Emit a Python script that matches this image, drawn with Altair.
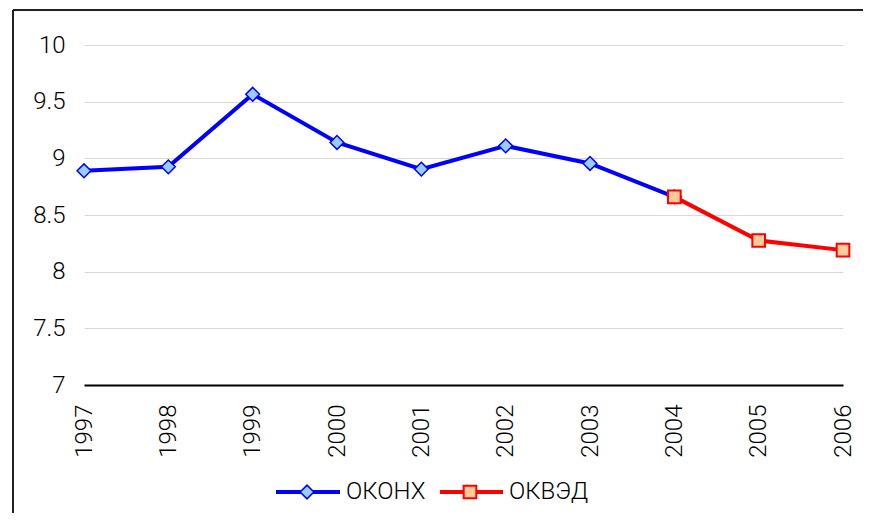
import altair as alt
import pandas as pd

years = ["1997", "1998", "1999", "2000", "2001", "2002", "2003", "2004", "2005", "2006"]
okonh_years = ["1997", "1998", "1999", "2000", "2001", "2002", "2003", "2004"]
okonh_values = [8.89, 8.925, 9.565, 9.14, 8.905, 9.11, 8.955, 8.66]
okved_years = ["2004", "2005", "2006"]
okved_values = [8.66, 8.275, 8.19]
series_names = ["ОКОНХ", "ОКВЭД"]
y_ticks = [7, 7.5, 8, 8.5, 9, 9.5, 10]

df1 = pd.DataFrame({"year": okonh_years, "value": okonh_values})
df2 = pd.DataFrame({"year": okved_years, "value": okved_values})
one = pd.DataFrame({"k": [0]})

FONT = "Roboto"
FS = 24
FW = 300
W, H = 759, 340
BLUE, LBLUE = "#0000ff", "#99ccff"
RED, LRED = "#ff0000", "#ffcc99"

x = alt.X(
    "year:O",
    scale=alt.Scale(type="point", domain=years, padding=0),
    axis=alt.Axis(
        title=None, labelAngle=-90, labelPadding=19, ticks=False, grid=False,
        domainColor="black", domainWidth=2, labelFont=FONT, labelFontSize=FS,
        labelFontWeight=FW, labelColor="black",
    ),
)
y = alt.Y(
    "value:Q",
    scale=alt.Scale(domain=[7, 10], nice=False, zero=False),
    axis=alt.Axis(
        title=None, values=y_ticks, format="~g", domain=False, ticks=False,
        gridColor="#d9d9d9", gridWidth=1, labelPadding=19, labelFont=FONT,
        labelFontSize=FS, labelFontWeight=FW, labelColor="black",
    ),
)

line1 = alt.Chart(df1).mark_line(color=BLUE, strokeWidth=4).encode(x=x, y=y)
pts1 = alt.Chart(df1).mark_point(
    shape="diamond", filled=True, fill=LBLUE, stroke=BLUE, strokeWidth=1.5,
    size=190, opacity=1,
).encode(x=x, y=y)
line2 = alt.Chart(df2).mark_line(color=RED, strokeWidth=4).encode(x=x, y=y)
pts2 = alt.Chart(df2).mark_point(
    shape="square", filled=True, fill=LRED, stroke=RED, strokeWidth=2,
    size=160, opacity=1,
).encode(x=x, y=y)

# frame around the chart
frame_top = alt.Chart(one).mark_rule(color="#222222", strokeWidth=2).encode(
    x=alt.value(-71), x2=alt.value(900), y=alt.value(-35)
)
frame_left = alt.Chart(one).mark_rule(color="#222222", strokeWidth=2).encode(
    x=alt.value(-71), y=alt.value(-35), y2=alt.value(700)
)

# legend
LY = 447
leg = []
for name, x0, x1, xc, xt, col, fill, shape in [
    (series_names[0], 192, 256, 223, 262, BLUE, LBLUE, "diamond"),
    (series_names[1], 356, 419, 386, 425, RED, LRED, "square"),
]:
    d = pd.DataFrame({"name": [name]})
    leg.append(alt.Chart(d).mark_rule(color=col, strokeWidth=4).encode(
        x=alt.value(x0), x2=alt.value(x1), y=alt.value(LY)))
    leg.append(alt.Chart(d).mark_point(
        shape=shape, filled=True, fill=fill, stroke=col,
        strokeWidth=1.5 if shape == "diamond" else 2,
        size=190 if shape == "diamond" else 160, opacity=1,
    ).encode(x=alt.value(xc), y=alt.value(LY)))
    leg.append(alt.Chart(d).mark_text(
        align="left", baseline="middle", font=FONT, fontSize=FS,
        fontWeight=FW, color="black"
    ).encode(x=alt.value(xt), y=alt.value(LY), text="name:N"))

chart = alt.layer(
    frame_top, frame_left, line1, pts1, line2, pts2, *leg
).properties(
    width=W, height=H,
    autosize=alt.AutoSizeParams(type="none"),
    padding={"left": 76, "top": 37, "right": 20, "bottom": 128},
).configure_view(strokeWidth=0)

chart.save("out.html", embed_options={"renderer": "svg", "actions": False})
